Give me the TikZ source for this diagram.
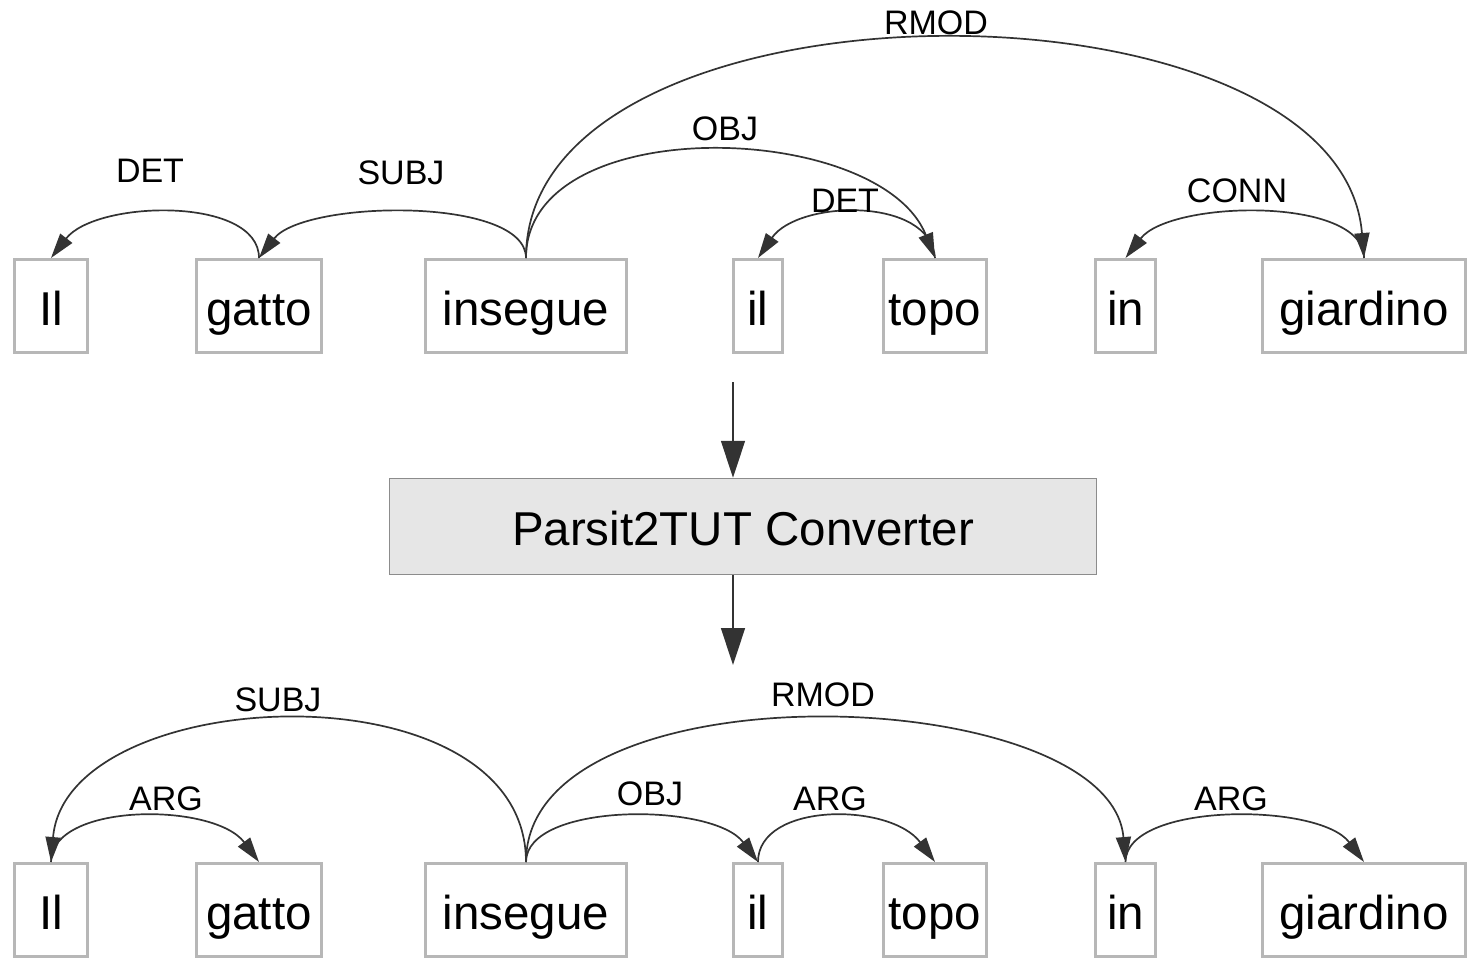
\documentclass[tikz,border=0pt]{standalone}
\usepackage{fontspec}
\setmainfont{Liberation Sans}
\usepackage{xcolor}
\usetikzlibrary{arrows.meta}

\definecolor{boxgray}{HTML}{B7B7B7}
\definecolor{arcgray}{HTML}{333333}
\definecolor{convfill}{HTML}{E6E6E6}
\definecolor{convline}{HTML}{8C8C8C}

\tikzset{
  word/.style={draw=boxgray, line width=1.5pt, inner sep=0pt, minimum height=46.5pt,
    text height=19pt, text depth=0pt, font=\fontsize{23.75}{28}\selectfont},
  deplabel/.style={inner sep=0pt, text height=12.2pt, text depth=0pt,
    font=\fontsize{17}{20}\selectfont},
  dep/.style={draw=arcgray, line width=0.85pt, -{Triangle[length=12.5pt,width=7.5pt]}},
  flow/.style={draw=arcgray, line width=0.75pt, -{Triangle[length=18.5pt,width=12pt]}},
  convbox/.style={draw=convline, fill=convfill, line width=0.75pt, inner sep=0pt,
    minimum width=353.5pt, minimum height=48pt, text height=19pt, text depth=0pt,
    font=\fontsize{23.75}{28}\selectfont}
}

\begin{document}
\begin{tikzpicture}[x=0.5pt, y=-0.5pt]
        \useasboundingbox (0,0) rectangle (1468,959);

        % Parsit tree
        \node[word, minimum width=36.5pt] (topIl) at (51,306) {Il};
        \node[word, minimum width=62.5pt] (topGatto) at (259,306) {gatto};
        \node[word, minimum width=100.5pt] (topInsegue) at (526,306) {insegue};
        \node[word, minimum width=24.5pt] (topIl2) at (758,306) {il};
        \node[word, minimum width=51.5pt] (topTopo) at (935,306) {topo};
        \node[word, minimum width=30pt] (topIn) at (1125.5,306) {in};
        \node[word, minimum width=101.5pt] (topGiardino) at (1364,306) {giardino};

        \draw[dep] (topGatto.north) .. controls +(0,-62) and +(45,-58) .. (topIl.north);
        \draw[dep] (topInsegue.north) .. controls +(0,-62) and +(45,-58) .. (topGatto.north);
        \draw[dep] (topInsegue.north) .. controls +(0,-148) and +(-55,-138) .. (topTopo.north);
        \draw[dep] (topTopo.north) .. controls +(-5,-62) and +(40,-58) .. (topIl2.north);
        \draw[dep] (topInsegue.north) .. controls +(0,-292) and +(-24,-292) .. (topGiardino.north);
        \draw[dep] (topGiardino.north) .. controls +(0,-62) and +(45,-58) .. (topIn.north);

        \node[deplabel] (lblRmodTop) at (936,22) {RMOD};
        \node[deplabel] (lblObjTop) at (725,128) {OBJ};
        \node[deplabel] (lblDetTop) at (150,170) {DET};
        \node[deplabel] (lblSubjTop) at (401,172) {SUBJ};
        \node[deplabel] (lblDetTop2) at (845,200) {DET};
        \node[deplabel] (lblConnTop) at (1237,190) {CONN};

        % Converter
        \coordinate (flowIn) at (733,382);
        \coordinate (flowOut) at (733,665);
        \node[convbox] (conv) at (743,526.5) {Parsit2TUT Converter};
        \draw[flow] (flowIn) -- (flowIn |- conv.north);
        \draw[flow] (flowOut |- conv.south) -- (flowOut);

        % TUT tree
        \node[word, minimum width=36.5pt] (botIl) at (51,910) {Il};
        \node[word, minimum width=62.5pt] (botGatto) at (259,910) {gatto};
        \node[word, minimum width=100.5pt] (botInsegue) at (526,910) {insegue};
        \node[word, minimum width=24.5pt] (botIl2) at (758,910) {il};
        \node[word, minimum width=51.5pt] (botTopo) at (935,910) {topo};
        \node[word, minimum width=30pt] (botIn) at (1125.5,910) {in};
        \node[word, minimum width=101.5pt] (botGiardino) at (1364,910) {giardino};

        \draw[dep] (botInsegue.north) .. controls +(0,-200) and +(15,-180) .. (botIl.north);
        \draw[dep] (botIl.north) .. controls +(0,-60) and +(-45,-60) .. (botGatto.north);
        \draw[dep] (botInsegue.north) .. controls +(0,-60) and +(-45,-60) .. (botIl2.north);
        \draw[dep] (botIl2.north) .. controls +(0,-60) and +(-45,-60) .. (botTopo.north);
        \draw[dep] (botInsegue.north) .. controls +(0,-200) and +(-15,-180) .. (botIn.north);
        \draw[dep] (botIn.north) .. controls +(0,-60) and +(-45,-60) .. (botGiardino.north);

        \node[deplabel] (lblSubjBot) at (278,699) {SUBJ};
        \node[deplabel] (lblRmodBot) at (823,694) {RMOD};
        \node[deplabel] (lblArgBot) at (166,798) {ARG};
        \node[deplabel] (lblObjBot) at (650,793) {OBJ};
        \node[deplabel] (lblArgBot2) at (830,798) {ARG};
        \node[deplabel] (lblArgBot3) at (1231,798) {ARG};
\end{tikzpicture}
\end{document}
